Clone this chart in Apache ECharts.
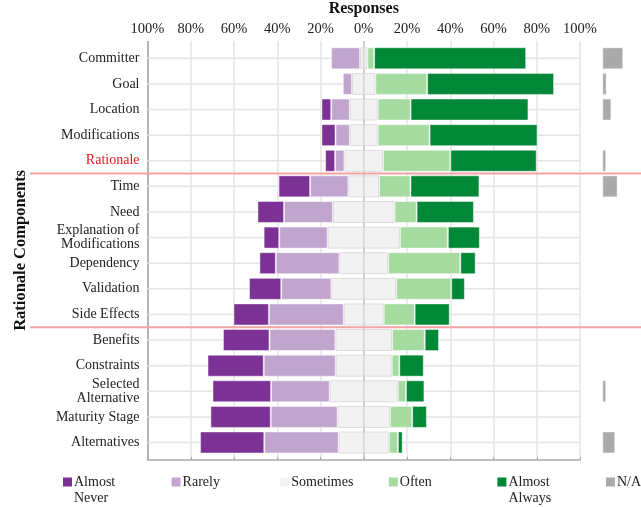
<!DOCTYPE html>
<html>
<head>
<meta charset="utf-8">
<script src="https://cdn.jsdelivr.net/npm/echarts@6/dist/echarts.min.js"></script>
<style>
  html, body { margin: 0; padding: 0; background: #ffffff; }
  #chart { width: 641px; height: 507px; }
</style>
</head>
<body>
<div id="chart"></div>
<script>
// Rationale components, top to bottom
const categories = [
  'Committer', 'Goal', 'Location', 'Modifications', 'Rationale',
  'Time', 'Need', 'Explanation of\nModifications', 'Dependency', 'Validation', 'Side Effects',
  'Benefits', 'Constraints', 'Selected\nAlternative', 'Maturity Stage', 'Alternatives'
];

// Share of responses (%) per component
const almostNever  = [0, 0, 4.5, 6.5, 4.6, 14.6, 12.3, 7.2, 7.6, 14.9, 16.4, 21.5, 26.0, 27.1, 27.9, 29.7];
const rarely       = [13.4, 4.3, 8.6, 6.6, 4.3, 17.7, 22.6, 22.4, 29.4, 23.2, 34.6, 30.5, 33.3, 27.1, 30.9, 34.4];
const sometimes    = [3.4, 10.8, 12.9, 12.9, 17.9, 14.2, 28.5, 33.4, 22.5, 29.9, 18.5, 26.2, 25.9, 31.5, 24.2, 23.2];
const often        = [3.1, 23.9, 15.2, 24.0, 31.1, 14.5, 10.2, 22.2, 33.4, 25.5, 14.3, 15.1, 3.5, 3.8, 10.3, 4.2];
const almostAlways = [70.3, 58.7, 54.5, 49.9, 39.9, 31.9, 26.5, 14.8, 7.1, 6.3, 16.2, 6.6, 11.3, 8.5, 6.8, 2.2];
const notApplicable = [9.7, 2.0, 4.2, 0, 1.8, 7.1, 0, 0, 0, 0, 0, 0, 0, 1.8, 0, 6.0];

// Axis tick values (percent)
const tickValues = [-100, -80, -60, -40, -20, 0, 20, 40, 60, 80, 100];

const legendNames = ['Almost Never', 'Rarely', 'Sometimes', 'Often', 'Almost Always', 'N/A'];
const colors = {
  'Almost Never': '#7b3294',
  'Rarely': '#c2a5cf',
  'Sometimes': '#f2f2f2',
  'Often': '#a6dba0',
  'Almost Always': '#008837',
  'N/A': '#aaaaaa'
};

const FONT = '"Liberation Serif", "DejaVu Serif", serif';
const nz = v => (v === 0 ? null : v);

const chart = echarts.init(document.getElementById('chart'), null, { renderer: 'canvas' });

function barSeries(name, values, sign) {
  return {
    name: name,
    type: 'bar',
    stack: 'likert',
    xAxisIndex: 1,
    yAxisIndex: 1,
    barWidth: 22,
    z: 2,
    silent: true,
    itemStyle: {
      color: colors[name],
      borderColor: name === 'Sometimes' ? '#dcdcdc' : 'rgba(255,255,255,0.45)',
      borderWidth: 1
    },
    data: values.map(v => nz(sign * v))
  };
}

const halfSometimes = sometimes.map(v => v / 2);

// split line colours: outer left edge darker, centre line darker
const splitColors = tickValues.map(v => (v === -100 ? '#9a9a9a' : (v === 0 ? '#bdbdbd' : '#e4e4e4')));

// legend: square marker level with the first text line
const LINE_H = 16.5;
const MARK = 9;
const tallIcon = 'path://M0,0H' + MARK + 'V' + MARK + 'H0Z' +
  'M0,' + (MARK + LINE_H) + 'H0.001V' + (MARK + LINE_H + 0.001) + 'H0Z';
const legends = legendNames.map((name, i) => {
  const twoLine = name.indexOf('Almost') === 0;
  return {
    data: [name],
    left: 63 + i * 108.6,
    top: 482 - LINE_H / 2,
    padding: 0,
    itemWidth: MARK,
    itemHeight: twoLine ? MARK + LINE_H : MARK,
    icon: twoLine ? tallIcon : 'rect',
    selectedMode: false,
    itemStyle: { borderWidth: 0 },
    formatter: n => n.replace('Almost ', 'Almost\n'),
    textStyle: {
      fontFamily: FONT,
      fontSize: 14,
      color: '#222',
      lineHeight: LINE_H,
      padding: [0, 0, 0, -3]
    }
  };
});

const option = {
  backgroundColor: '#ffffff',
  animation: false,
  legend: legends,
  grid: [
    { left: 147.5, width: 432.5, top: 41, height: 419, outerBoundsMode: 'none' },       // frame
    { left: 147.5, width: 432.5, top: 45.5, height: 409.8, outerBoundsMode: 'none' },   // likert bars
    { left: 602.3, width: 32.4, top: 45.5, height: 409.8, outerBoundsMode: 'none' }     // N/A bars
  ],
  xAxis: [
    {
      gridIndex: 0, type: 'value', position: 'top',
      min: -100, max: 100, interval: 20,
      name: 'Responses', nameLocation: 'middle', nameGap: 21,
      nameTextStyle: { fontFamily: FONT, fontSize: 16, fontWeight: 'bold', color: '#111' },
      axisLine: { show: true, lineStyle: { color: '#aaaaaa', width: 1.5 } },
      axisTick: { show: true, length: 3, lineStyle: { color: '#aaaaaa' } },
      axisLabel: {
        fontFamily: FONT, fontSize: 14.5, color: '#222', margin: 4,
        formatter: v => Math.abs(v) + '%'
      },
      splitLine: { show: true, lineStyle: { color: splitColors, width: 1.5 } }
    },
    {
      gridIndex: 1, type: 'value', min: -100, max: 100,
      axisLine: { show: false }, axisTick: { show: false },
      axisLabel: { show: false }, splitLine: { show: false }
    },
    {
      gridIndex: 2, type: 'value', min: 0, max: 15,
      axisLine: { show: false }, axisTick: { show: false },
      axisLabel: { show: false }, splitLine: { show: false }
    }
  ],
  yAxis: [
    {
      gridIndex: 0, type: 'value', min: 0, max: 1, show: false
    },
    {
      gridIndex: 1, type: 'category', inverse: true, data: categories,
      name: 'Rationale Components', nameLocation: 'middle', nameRotate: 90, nameGap: 118,
      nameTextStyle: { fontFamily: FONT, fontSize: 16.5, fontWeight: 'bold', color: '#111' },
      axisLine: { show: false }, axisTick: { show: false },
      splitLine: { show: false },
      axisLabel: {
        fontFamily: FONT, fontSize: 14, lineHeight: 14, margin: 8,
        color: v => (v === 'Rationale' ? '#e31a1c' : '#222')
      }
    },
    {
      gridIndex: 2, type: 'category', inverse: true, data: categories, show: false
    }
  ],
  series: [
    // row guide lines through the middle of each category
    {
      name: 'rows', type: 'custom', xAxisIndex: 1, yAxisIndex: 1, silent: true, z: 1,
      data: categories.map(c => [0, c]),
      encode: { x: 0, y: 1 },
      renderItem: (params, api) => {
        const idx = api.value(1);
        const p1 = api.coord([-100, idx]);
        const p2 = api.coord([100, idx]);
        return {
          type: 'line',
          shape: { x1: p1[0], y1: p1[1], x2: p2[0], y2: p2[1] },
          style: { stroke: '#e4e4e4', lineWidth: 1.5 }
        };
      }
    },
    barSeries('Sometimes', halfSometimes, -1),
    barSeries('Rarely', rarely, -1),
    barSeries('Almost Never', almostNever, -1),
    barSeries('Sometimes', halfSometimes, 1),
    barSeries('Often', often, 1),
    barSeries('Almost Always', almostAlways, 1),
    {
      name: 'N/A', type: 'bar', xAxisIndex: 2, yAxisIndex: 2, barWidth: 22, silent: true,
      itemStyle: { color: colors['N/A'], borderColor: 'rgba(255,255,255,0.45)', borderWidth: 1 },
      data: notApplicable.map(nz)
    }
  ]
};

chart.setOption(option);

// Section dividers between groups of components
function dividerY(a, b) {
  const ya = chart.convertToPixel({ yAxisIndex: 1 }, a);
  const yb = chart.convertToPixel({ yAxisIndex: 1 }, b);
  return (ya + yb) / 2;
}
const dividers = [['Rationale', 'Time'], ['Side Effects', 'Benefits']];
chart.setOption({
  graphic: dividers.map(([a, b]) => {
    const y = dividerY(a, b);
    return {
      type: 'line', silent: true, z: 10,
      shape: { x1: 30, y1: y, x2: 641, y2: y },
      style: { stroke: '#f3a3a3', lineWidth: 2 }
    };
  })
});
</script>
</body>
</html>
